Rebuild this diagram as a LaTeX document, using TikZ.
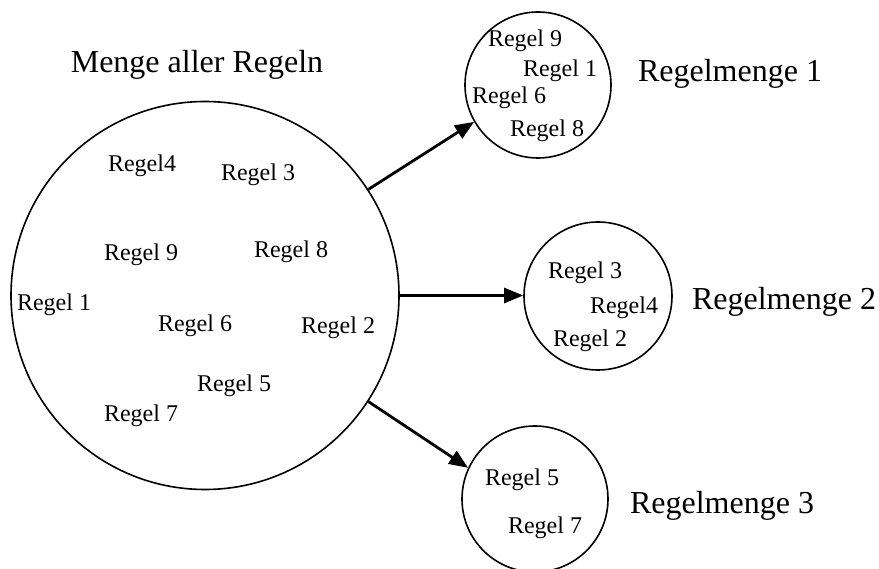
\documentclass[tikz,border=0pt]{standalone}
\usepackage{fontspec}
\setmainfont{Liberation Serif}
\usetikzlibrary{arrows.meta}
\begin{document}
\begin{tikzpicture}[x=1pt,y=-1pt,
  setcircle/.style={circle,draw,line width=1.6pt,inner sep=0pt,minimum size=#1},
  rule/.style={font=\fontsize{24}{24}\selectfont,inner sep=0pt,anchor=center},
  title/.style={font=\fontsize{32}{32}\selectfont,inner sep=0pt,anchor=base},
  flow/.style={line width=2.8pt,-{Triangle[length=19pt,width=15pt]}}]
\useasboundingbox (0,0) rectangle (879,569);

% the full rule set
\node[setcircle=388pt] (all) at (205,295.5) {};
\node[title] (tall) at (197,73) {Menge aller Regeln};
\node[rule] (a4) at (142,166) {Regel4};
\node[rule] (a3) at (258,175) {Regel 3};
\node[rule] (a9) at (141,255) {Regel 9};
\node[rule] (a8) at (291,252) {Regel 8};
\node[rule] (a1) at (54,305) {Regel 1};
\node[rule] (a6) at (195,326) {Regel 6};
\node[rule] (a2) at (338,328) {Regel 2};
\node[rule] (a5) at (234,386) {Regel 5};
\node[rule] (a7) at (141,416) {Regel 7};

% subset 1
\node[setcircle=146pt] (s1) at (538,85) {};
\node[title] (t1) at (730,82) {Regelmenge 1};
\node[rule] (b9) at (525,41) {Regel 9};
\node[rule] (b1) at (560,71) {Regel 1};
\node[rule] (b6) at (509,98) {Regel 6};
\node[rule] (b8) at (547,131) {Regel 8};

% subset 2
\node[setcircle=148pt] (s2) at (598,296) {};
\node[title] (t2) at (784,310) {Regelmenge 2};
\node[rule] (c3) at (585,273) {Regel 3};
\node[rule] (c4) at (624,308) {Regel4};
\node[rule] (c2) at (590,341) {Regel 2};

% subset 3
\node[setcircle=146pt] (s3) at (535,499) {};
\node[title] (t3) at (722,513) {Regelmenge 3};
\node[rule] (d5) at (522,480) {Regel 5};
\node[rule] (d7) at (545,528) {Regel 7};

% partition arrows
\draw[flow] (all.33) -- (s1.210);
\draw[flow] (all.east) -- (all.east -| s2.west);
\draw[flow] (all.-33) -- (s3.155);
\end{tikzpicture}
\end{document}
